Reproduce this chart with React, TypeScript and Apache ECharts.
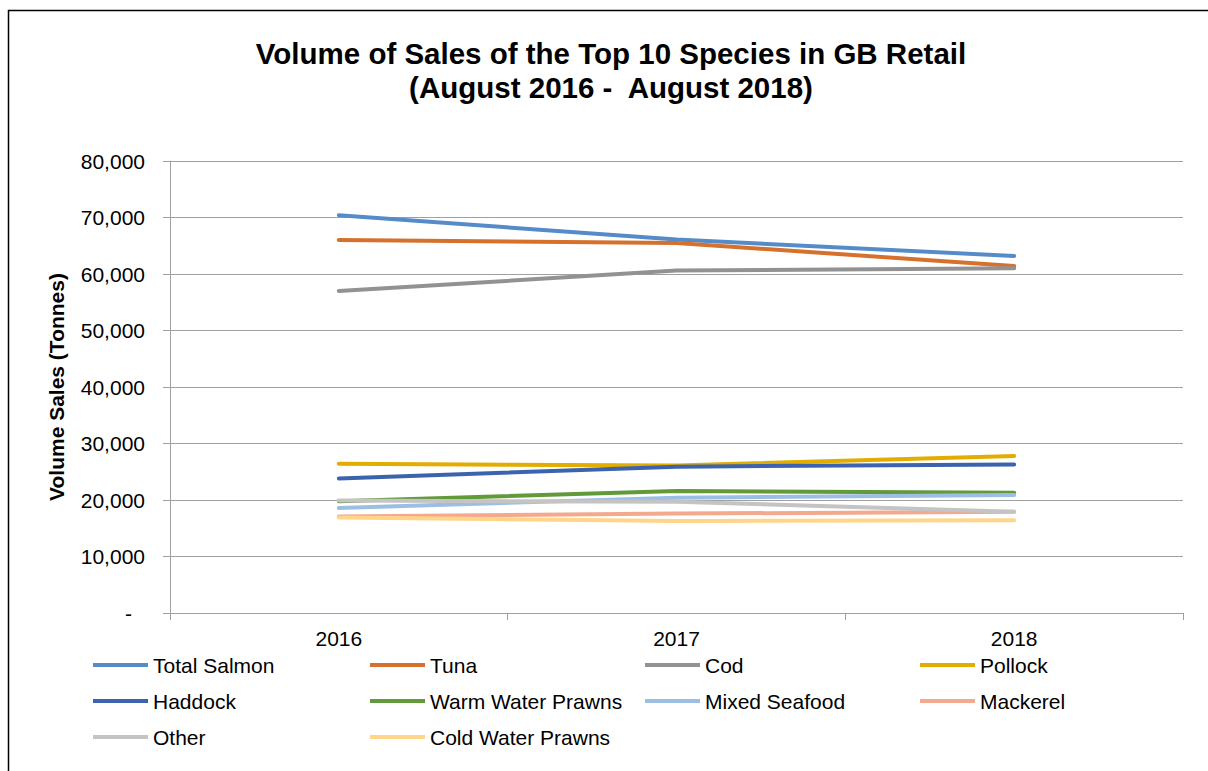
import React, { useEffect, useRef } from "react";
import * as echarts from "echarts";

const years = ["2016", "2017", "2018"];
const seriesNames = [
  "Total Salmon", "Tuna", "Cod", "Pollock", "Haddock",
  "Warm Water Prawns", "Mixed Seafood", "Mackerel", "Other", "Cold Water Prawns",
];
const totalSalmon = [70400, 66100, 63200];
const tuna = [66000, 65500, 61400];
const cod = [57000, 60600, 61000];
const pollock = [26400, 26100, 27800];
const haddock = [23800, 25900, 26300];
const warmWaterPrawns = [19800, 21600, 21300];
const mixedSeafood = [18600, 20400, 20900];
const mackerel = [17100, 17600, 17900];
const other = [19900, 19700, 17900];
const coldWaterPrawns = [16900, 16300, 16400];
const colors = [
  "#558BC8", "#D6712D", "#929292", "#E2AC00", "#3C64AE",
  "#61993B", "#9CBEE5", "#F3A98D", "#C4C4C4", "#FFD58A",
];
const yTicks = { min: 0, max: 80000, interval: 10000 };

const FONT = "'Liberation Sans', Arial, sans-serif";

export default function App() {
  const ref = useRef<HTMLDivElement>(null);
  useEffect(() => {
    if (!ref.current) return;
    const chart = echarts.init(ref.current, null, { renderer: "svg" });
    const values = [
      totalSalmon, tuna, cod, pollock, haddock,
      warmWaterPrawns, mixedSeafood, mackerel, other, coldWaterPrawns,
    ];
    const columns = [
      [0, 4, 8],
      [1, 5, 9],
      [2, 6],
      [3, 7],
    ];
    const colLeft = [93, 370, 645, 920];
    chart.setOption({
      animation: false,
      backgroundColor: "#ffffff",
      color: colors,
      title: {
        text: "Volume of Sales of the Top 10 Species in GB Retail\n(August 2016 -  August 2018)",
        left: 606,
        top: 31,
        textAlign: "center",
        textStyle: {
          fontFamily: FONT,
          fontSize: 29.5,
          lineHeight: 34,
          fontWeight: "bold",
          color: "#000",
        },
      },
      legend: columns.map((col, i) => ({
        orient: "vertical",
        left: colLeft[i],
        top: 653,
        padding: 0,
        itemWidth: 55,
        itemHeight: 4,
        itemGap: 12,
        icon: "rect",
        data: col.map((k) => seriesNames[k]),
        textStyle: {
          fontFamily: FONT,
          fontSize: 21,
          lineHeight: 24,
          color: "#000",
        },
        selectedMode: false,
      })),
      grid: { left: 170, right: 25, top: 161, bottom: 158 },
      xAxis: {
        type: "category",
        data: years,
        boundaryGap: true,
        axisLine: { lineStyle: { color: "#A0A0A0", width: 1 } },
        axisTick: { show: true, length: 7, inside: false, lineStyle: { color: "#A0A0A0" } },
        axisLabel: { fontFamily: FONT, fontSize: 21, color: "#000", margin: 15 },
      },
      yAxis: {
        type: "value",
        min: yTicks.min,
        max: yTicks.max,
        interval: yTicks.interval,
        name: "Volume Sales (Tonnes)",
        nameLocation: "middle",
        nameRotate: 90,
        nameGap: 103,
        nameTextStyle: { fontFamily: FONT, fontSize: 21, fontWeight: "bold", color: "#000" },
        axisLine: { show: true, lineStyle: { color: "#A0A0A0", width: 1 } },
        axisTick: { show: true, length: 7, lineStyle: { color: "#A0A0A0" } },
        splitLine: { show: true, lineStyle: { color: "#A0A0A0", width: 1 } },
        axisLabel: {
          fontFamily: FONT,
          fontSize: 21,
          color: "#000",
          margin: 25,
          formatter: (v: number) =>
            v === 0 ? "{d|-}" : v.toLocaleString("en-GB"),
          rich: {
            d: { fontFamily: FONT, fontSize: 21, color: "#000", padding: [0, 13, 0, 0] },
          },
        },
      },
      graphic: [
        {
          type: "rect",
          shape: { x: 8.5, y: 10.5, width: 1400, height: 1000 },
          style: { fill: "none", stroke: "#000", lineWidth: 1.5 },
          silent: true,
          z: 100,
        },
      ],
      series: seriesNames.map((name, i) => ({
        name,
        type: "line",
        data: values[i],
        symbol: "none",
        lineStyle: { width: 4, color: colors[i], cap: "round", join: "round" },
        itemStyle: { color: colors[i] },
      })),
    });
    return () => chart.dispose();
  }, []);
  return (
    <div
      ref={ref}
      style={{ position: "absolute", left: 0, top: 0, width: 1208, height: 771 }}
    />
  );
}
